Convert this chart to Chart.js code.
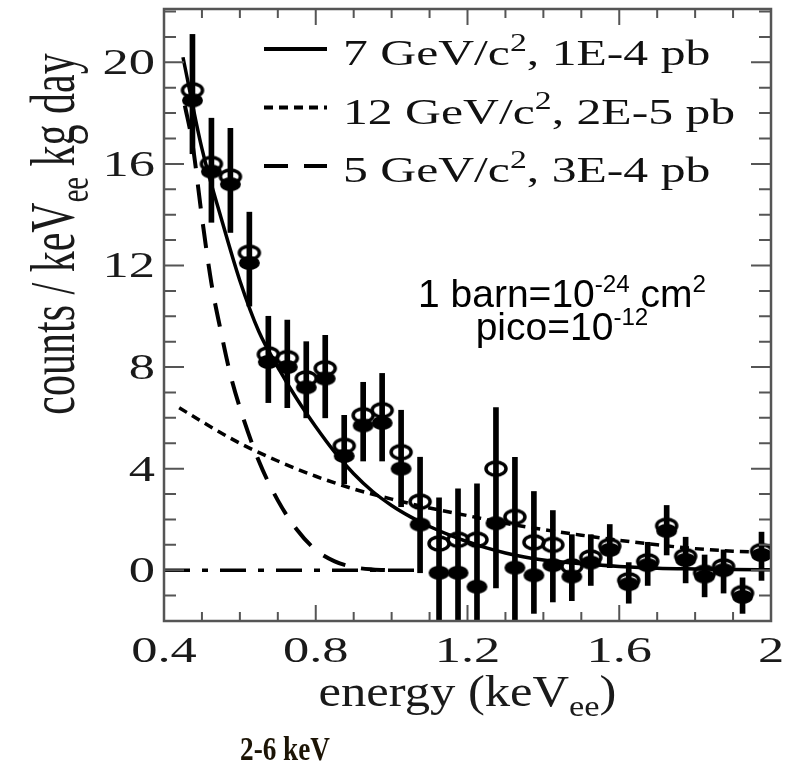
<!DOCTYPE html>
<html>
<head>
<meta charset="utf-8">
<script src="https://cdn.jsdelivr.net/npm/chart.js@4.4.1/dist/chart.umd.min.js"></script>
<style>
  html, body { margin: 0; padding: 0; background: #fff; }
  #wrap { position: relative; width: 791px; height: 768px; }
</style>
</head>
<body>
<div id="wrap"><canvas id="chart" width="791" height="768"></canvas></div>
<script>
// --- Data (energy bins of 0.05 keVee) ---
const binCenters = [0.475, 0.525, 0.575, 0.625, 0.675, 0.725, 0.775, 0.825, 0.875, 0.925,
  0.975, 1.025, 1.075, 1.125, 1.175, 1.225, 1.275, 1.325, 1.375, 1.425, 1.475, 1.525,
  1.575, 1.625, 1.675, 1.725, 1.775, 1.825, 1.875, 1.925, 1.975];
const openCounts = [18.9, 16.0, 15.5, 12.5, 8.5, 8.35, 7.55, 7.95, 4.9, 6.1, 6.3, 4.65,
  2.7, 1.05, 1.2, 1.2, 4.0, 2.1, 1.1, 1.0, 0.15, 0.5, 0.95, -0.4, 0.35, 1.75, 0.55,
  -0.1, 0.15, -0.9, 0.75];
const filledCounts = [18.5, 15.7, 15.2, 12.1, 8.2, 8.0, 7.2, 7.55, 4.5, 5.7, 5.8, 4.0,
  1.8, -0.1, -0.1, -0.65, 1.85, 0.1, -0.2, 0.2, -0.25, 0.3, 0.8, -0.55, 0.2, 1.55, 0.4,
  -0.25, 0.0, -1.05, 0.6];
const errLow = [16.4, 13.7, 13.3, 10.4, 6.6, 6.4, 6.0, 6.0, 3.4, 4.3, 4.3, 2.5, -0.1,
  -2.3, -2.3, -2.3, -0.7, -2.3, -1.7, -1.25, -1.2, -0.6, 0.1, -1.3, -0.6, 0.6, -0.5,
  -1.05, -0.9, -1.7, -0.4];
const errHigh = [21.1, 17.8, 17.4, 14.1, 10.0, 9.85, 9.0, 9.25, 6.1, 7.4, 7.75, 6.3, 4.45,
  2.85, 3.2, 3.4, 6.4, 4.45, 3.1, 2.35, 1.4, 1.4, 1.8, 0.3, 1.1, 2.55, 1.3, 0.6, 0.8,
  -0.3, 1.5];

// 7 GeV/c^2 model curve (solid)
const wimp7E = [0.45, 0.5, 0.55, 0.6, 0.65, 0.7, 0.75, 0.8, 0.85, 0.9, 0.95, 1.0, 1.05,
  1.1, 1.15, 1.2, 1.25, 1.3, 1.35, 1.4, 1.5, 1.6, 1.7, 1.8, 1.9, 2.0];
const wimp7Y = [20.2, 16.6, 13.9, 11.4, 9.4, 8.0, 6.75, 5.65, 4.65, 3.8, 3.1, 2.55, 2.1,
  1.72, 1.4, 1.12, 0.88, 0.68, 0.52, 0.4, 0.25, 0.15, 0.08, 0.05, 0.03, 0.02];
// 12 GeV/c^2 model curve (short dashes)
const wimp12E = [0.44, 0.5, 0.6, 0.7, 0.8, 0.9, 1.0, 1.1, 1.2, 1.3, 1.4, 1.5, 1.6, 1.7,
  1.8, 1.9, 2.0];
const wimp12Y = [6.4, 5.85, 5.0, 4.3, 3.7, 3.2, 2.8, 2.45, 2.15, 1.85, 1.6, 1.38, 1.18,
  1.0, 0.85, 0.75, 0.7];
// 5 GeV/c^2 model curve (long dashes)
const wimp5E = [0.455, 0.475, 0.5, 0.525, 0.55, 0.575, 0.6, 0.65, 0.7, 0.75, 0.8, 0.85,
  0.9, 0.95, 1.0];
const wimp5Y = [18.3, 16.8, 13.9, 11.3, 9.4, 7.7, 6.4, 4.3, 2.75, 1.6, 0.8, 0.35, 0.12,
  0.03, 0];
// zero baseline (dash-dot)
const baseE = [0.4, 1.07];
const baseY = [0, 0];

// axis ticks
const xTickLabels = [0.4, 0.8, 1.2, 1.6, 2];
const yTickLabels = [0, 4, 8, 12, 16, 20];
const xMinorStep = 0.1;
const yMinorStep = 1;

const legendLabels = [
  [{ t: '7 GeV/c' }, { t: '2', sup: true }, { t: ', 1E-4 pb' }],
  [{ t: '12 GeV/c' }, { t: '2', sup: true }, { t: ', 2E-5 pb' }],
  [{ t: '5 GeV/c' }, { t: '2', sup: true }, { t: ', 3E-4 pb' }],
];

const SERIF = '"Liberation Serif", "DejaVu Serif", serif';
const SANS = '"Liberation Sans", Arial, sans-serif';
const STRETCH = 1.5; // the figure is stretched horizontally

const toXY = (xs, ys) => xs.map((x, i) => ({ x: x, y: ys[i] }));

// elliptical markers (the original picture is horizontally stretched)
function ellipseMarker(w, h, filled, lw) {
  const c = document.createElement('canvas');
  c.width = w + 6;
  c.height = h + 6;
  const g = c.getContext('2d');
  g.beginPath();
  g.ellipse(c.width / 2, c.height / 2, w / 2, h / 2, 0, 0, Math.PI * 2);
  if (filled) {
    g.fillStyle = '#000';
    g.fill();
  } else {
    g.lineWidth = lw;
    g.strokeStyle = '#000';
    g.stroke();
  }
  return c;
}

// draw a run of text pieces (with super/subscripts), optionally stretched / rotated
function drawRich(ctx, runs, x, y, opt) {
  const size = opt.size;
  const family = opt.family || SERIF;
  const weight = opt.weight || 'normal';
  ctx.save();
  ctx.translate(x, y);
  if (opt.rotate) ctx.rotate(opt.rotate);
  ctx.scale(opt.sx || 1, opt.sy || 1);
  ctx.fillStyle = opt.color || '#000';
  ctx.textBaseline = 'alphabetic';
  const fontOf = (r) => {
    const s = (r.sup || r.sub) ? size * (opt.scriptScale || 0.68) : size;
    return weight + ' ' + s + 'px ' + family;
  };
  const widths = runs.map(r => { ctx.font = fontOf(r); return ctx.measureText(r.t).width; });
  const total = widths.reduce((a, b) => a + b, 0);
  let cx = opt.align === 'center' ? -total / 2 : opt.align === 'right' ? -total : 0;
  runs.forEach((r, i) => {
    ctx.font = fontOf(r);
    let dy = 0;
    if (r.sup) dy = -size * (opt.supRaise || 0.4);
    if (r.sub) dy = size * 0.22;
    ctx.fillText(r.t, cx, dy);
    cx += widths[i];
  });
  ctx.restore();
}

const dashSolid = [];
const dash12 = [9, 6];
const dash5 = [24, 16];
const dashBase = [26, 12, 6, 12];

const framePlugin = {
  id: 'frameAndText',
  afterDraw(chart) {
    const { ctx, chartArea: a, scales: { x, y } } = chart;
    ctx.save();
    // frame
    ctx.strokeStyle = '#555';
    ctx.lineWidth = 2.5;
    ctx.strokeRect(a.left, a.top, a.right - a.left, a.bottom - a.top);

    // inward ticks on all four sides
    ctx.lineWidth = 2;
    const isMajor = (v, list) => list.some(t => Math.abs(t - v) < 1e-6);
    for (let v = x.min; v <= x.max + 1e-6; v += xMinorStep) {
      const px = x.getPixelForValue(v);
      const len = isMajor(v, xTickLabels) ? 16 : 9;
      ctx.beginPath();
      ctx.moveTo(px, a.bottom); ctx.lineTo(px, a.bottom - len);
      ctx.moveTo(px, a.top); ctx.lineTo(px, a.top + len);
      ctx.stroke();
    }
    for (let v = Math.ceil(y.min); v <= y.max + 1e-6; v += yMinorStep) {
      const py = y.getPixelForValue(v);
      const len = isMajor(v, yTickLabels) ? 20 : 12;
      ctx.beginPath();
      ctx.moveTo(a.left, py); ctx.lineTo(a.left + len, py);
      ctx.moveTo(a.right, py); ctx.lineTo(a.right - len, py);
      ctx.stroke();
    }
    ctx.restore();

    // tick labels
    xTickLabels.forEach(v => {
      drawRich(ctx, [{ t: String(v) }], x.getPixelForValue(v), 662,
        { size: 35, sx: STRETCH, align: 'center', color: '#1a1a1a' });
    });
    yTickLabels.forEach(v => {
      drawRich(ctx, [{ t: String(v) }], 155, y.getPixelForValue(v) + 12,
        { size: 35, sx: STRETCH, align: 'right', color: '#1a1a1a' });
    });

    // axis titles
    drawRich(ctx, [{ t: 'energy (keV' }, { t: 'ee', sub: true }, { t: ')' }],
      (a.left + a.right) / 2, 706, { size: 44, sx: 1.15, align: 'center', color: '#1a1a1a' });
    drawRich(ctx, [{ t: 'counts / keV' }, { t: 'ee', sub: true }, { t: ' kg day' }],
      74, 234, { size: 42, rotate: -Math.PI / 2, sy: 1.5, align: 'center', color: '#1a1a1a' });

    // legend inside the frame, top right
    const samples = [dashSolid, dash12, dash5];
    legendLabels.forEach((runs, i) => {
      const ly = 49 + i * 58.5;
      ctx.save();
      ctx.strokeStyle = '#000';
      ctx.lineWidth = 4;
      ctx.setLineDash(samples[i]);
      ctx.beginPath();
      ctx.moveTo(264, ly);
      ctx.lineTo(327, ly);
      ctx.stroke();
      ctx.restore();
      drawRich(ctx, runs, 343, ly + 16, { size: 36, sx: 1.38, color: '#111' });
    });

    // annotation
    drawRich(ctx, [{ t: '1 barn=10' }, { t: '-24', sup: true }, { t: ' cm' }, { t: '2', sup: true }],
      562, 307, { size: 39, family: SANS, align: 'center', scriptScale: 0.62, supRaise: 0.38 });
    drawRich(ctx, [{ t: 'pico=10' }, { t: '-12', sup: true }],
      562, 340, { size: 39, family: SANS, align: 'center', scriptScale: 0.62, supRaise: 0.38 });

    // note below the axis
    drawRich(ctx, [{ t: '2-6 keV' }], 285, 760,
      { size: 34, weight: 'bold', sx: 0.8, align: 'center', color: '#1c1405' });
  }
};

const lineStyle = {
  type: 'line',
  borderColor: '#000',
  borderWidth: 3.5,
  pointRadius: 0,
  fill: false,
  cubicInterpolationMode: 'monotone',
};

new Chart(document.getElementById('chart'), {
  type: 'scatter',
  data: {
    datasets: [
      {
        type: 'bar',
        label: 'errors',
        data: binCenters.map((e, i) => ({ x: e, y: [errLow[i], errHigh[i]] })),
        backgroundColor: '#000',
        barThickness: 5,
        order: 6,
      },
      Object.assign({}, lineStyle, { label: '7 GeV', data: toXY(wimp7E, wimp7Y), borderDash: dashSolid, order: 4 }),
      Object.assign({}, lineStyle, { label: '12 GeV', data: toXY(wimp12E, wimp12Y), borderDash: dash12, order: 4 }),
      Object.assign({}, lineStyle, { label: '5 GeV', data: toXY(wimp5E, wimp5Y), borderDash: dash5, borderWidth: 4, order: 4 }),
      Object.assign({}, lineStyle, { label: 'zero', data: toXY(baseE, baseY), borderDash: dashBase, order: 5 }),
      {
        type: 'scatter',
        label: 'filled',
        data: toXY(binCenters, filledCounts),
        pointStyle: ellipseMarker(21, 14, true, 0),
        pointRadius: 7,
        order: 2,
      },
      {
        type: 'scatter',
        label: 'open',
        data: toXY(binCenters, openCounts),
        pointStyle: ellipseMarker(20, 13, false, 3.5),
        pointRadius: 7,
        order: 1,
      },
    ],
  },
  options: {
    responsive: false,
    animation: false,
    layout: { padding: { left: 164, right: 20, top: 9, bottom: 147 } },
    scales: {
      x: { type: 'linear', min: 0.4, max: 2.0, display: false, offset: false },
      y: { type: 'linear', min: -2, max: 22.1, display: false },
    },
    plugins: {
      legend: { display: false },
      tooltip: { enabled: false },
    },
  },
  plugins: [framePlugin],
});
</script>
</body>
</html>
